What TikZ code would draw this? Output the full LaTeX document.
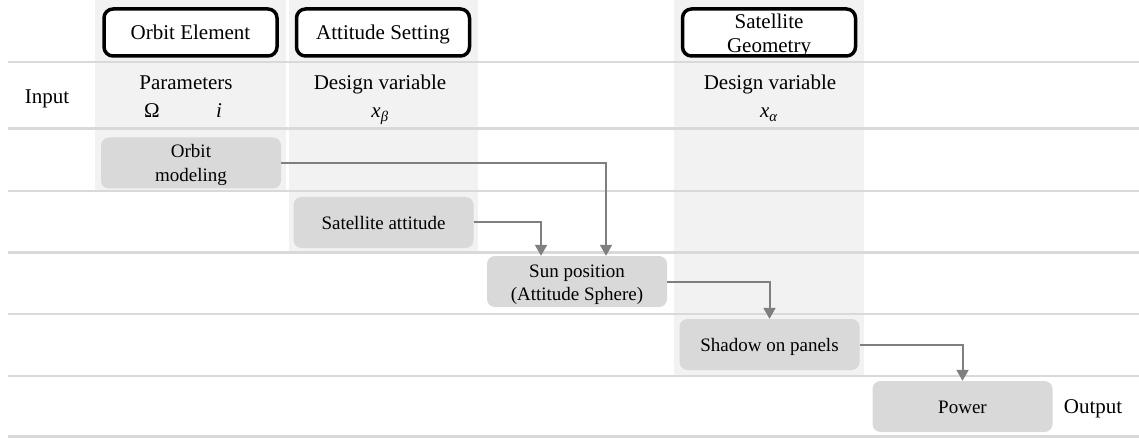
\documentclass[tikz,border=0pt]{standalone}
\usepackage{fontspec}
\setmainfont{Liberation Serif}
\usetikzlibrary{arrows.meta}
\definecolor{colshade}{HTML}{F2F2F2}
\definecolor{boxgray}{HTML}{D9D9D9}
\definecolor{linegray}{HTML}{D9D9D9}
\definecolor{arrowgray}{HTML}{7F7F7F}
\begin{document}
\begin{tikzpicture}[x=1pt,y=-1pt,
  hdr/.style={draw=black,line width=3.5pt,rounded corners=9pt,fill=white,
    minimum width=173pt,minimum height=47pt,inner sep=0pt,
    font=\fontsize{21}{24}\selectfont,align=center},
  proc/.style={fill=boxgray,rounded corners=8pt,minimum width=180pt,
    minimum height=51pt,inner sep=0pt,
    font=\fontsize{19}{23.5}\selectfont,align=center},
  oneline/.style={text height=14pt,text depth=0pt},
  lbl/.style={font=\fontsize{21}{24}\selectfont,inner sep=0pt,anchor=base},
  flow/.style={draw=arrowgray,line width=2pt,-{Triangle[width=12pt,length=11pt]}},
  rowline/.style={draw=linegray,line width=2.5pt}]

% page extent
\useasboundingbox (0,0) rectangle (1139,438);

% shaded columns
\fill[colshade] (95,0) rectangle (286,191);
\fill[colshade] (289,0) rectangle (478,252.5);
\fill[colshade] (674,0) rectangle (864,376);

% row separators
\foreach \yy in {62,128.5,191,252.5,314,376,436.5}
  \draw[rowline] (8,\yy) -- (1139,\yy);

% column headers
\node[hdr,oneline] (orbitEl) at (190.5,32.5) {Orbit Element};
\node[hdr,oneline] (attSet)  at (383,32.5)   {Attitude Setting};
\node[hdr,text height=41pt,text depth=0pt] (satGeo) at (769,32.5) {Satellite\\Geometry};

% inputs
\node[lbl] (input) at (47,104) {Input};
\node[lbl] (params) at (186,90) {Parameters};
\node[lbl] (raan) at (152,118) {Ω};
\node[lbl] (incl) at (219,118) {\textit{i}};
\node[lbl] (dvB) at (380,90) {Design variable};
\node[lbl] (xB) at (380,118) {\textit{x}\textsubscript{\textit{β}}};
\node[lbl] (dvA) at (770,90) {Design variable};
\node[lbl] (xA) at (769,118) {\textit{x}\textsubscript{\textit{α}}};

% process blocks
\node[proc,text height=37pt,text depth=0pt] (orbitMod) at (191,163) {Orbit\\modeling};
\node[proc,oneline] (satAtt) at (383.5,222.5) {Satellite attitude};
\node[proc,text height=38.5pt,text depth=0pt] (sunPos) at (577,281.5) {Sun position\\(Attitude Sphere)};
\node[proc,oneline] (shadow) at (769.5,344.5) {Shadow on panels};
\node[proc,oneline] (power)  at (962.5,406.5) {Power};

% output
\node[lbl] (output) at (1093,413) {Output};

% data flow
\draw[flow] (orbitMod.east) -| ([xshift=29pt]sunPos.north);
\draw[flow] (satAtt.east) -| ([xshift=-36pt]sunPos.north);
\draw[flow] (sunPos.east) -| (shadow.north);
\draw[flow] (shadow.east) -| (power.north);
\end{tikzpicture}
\end{document}
